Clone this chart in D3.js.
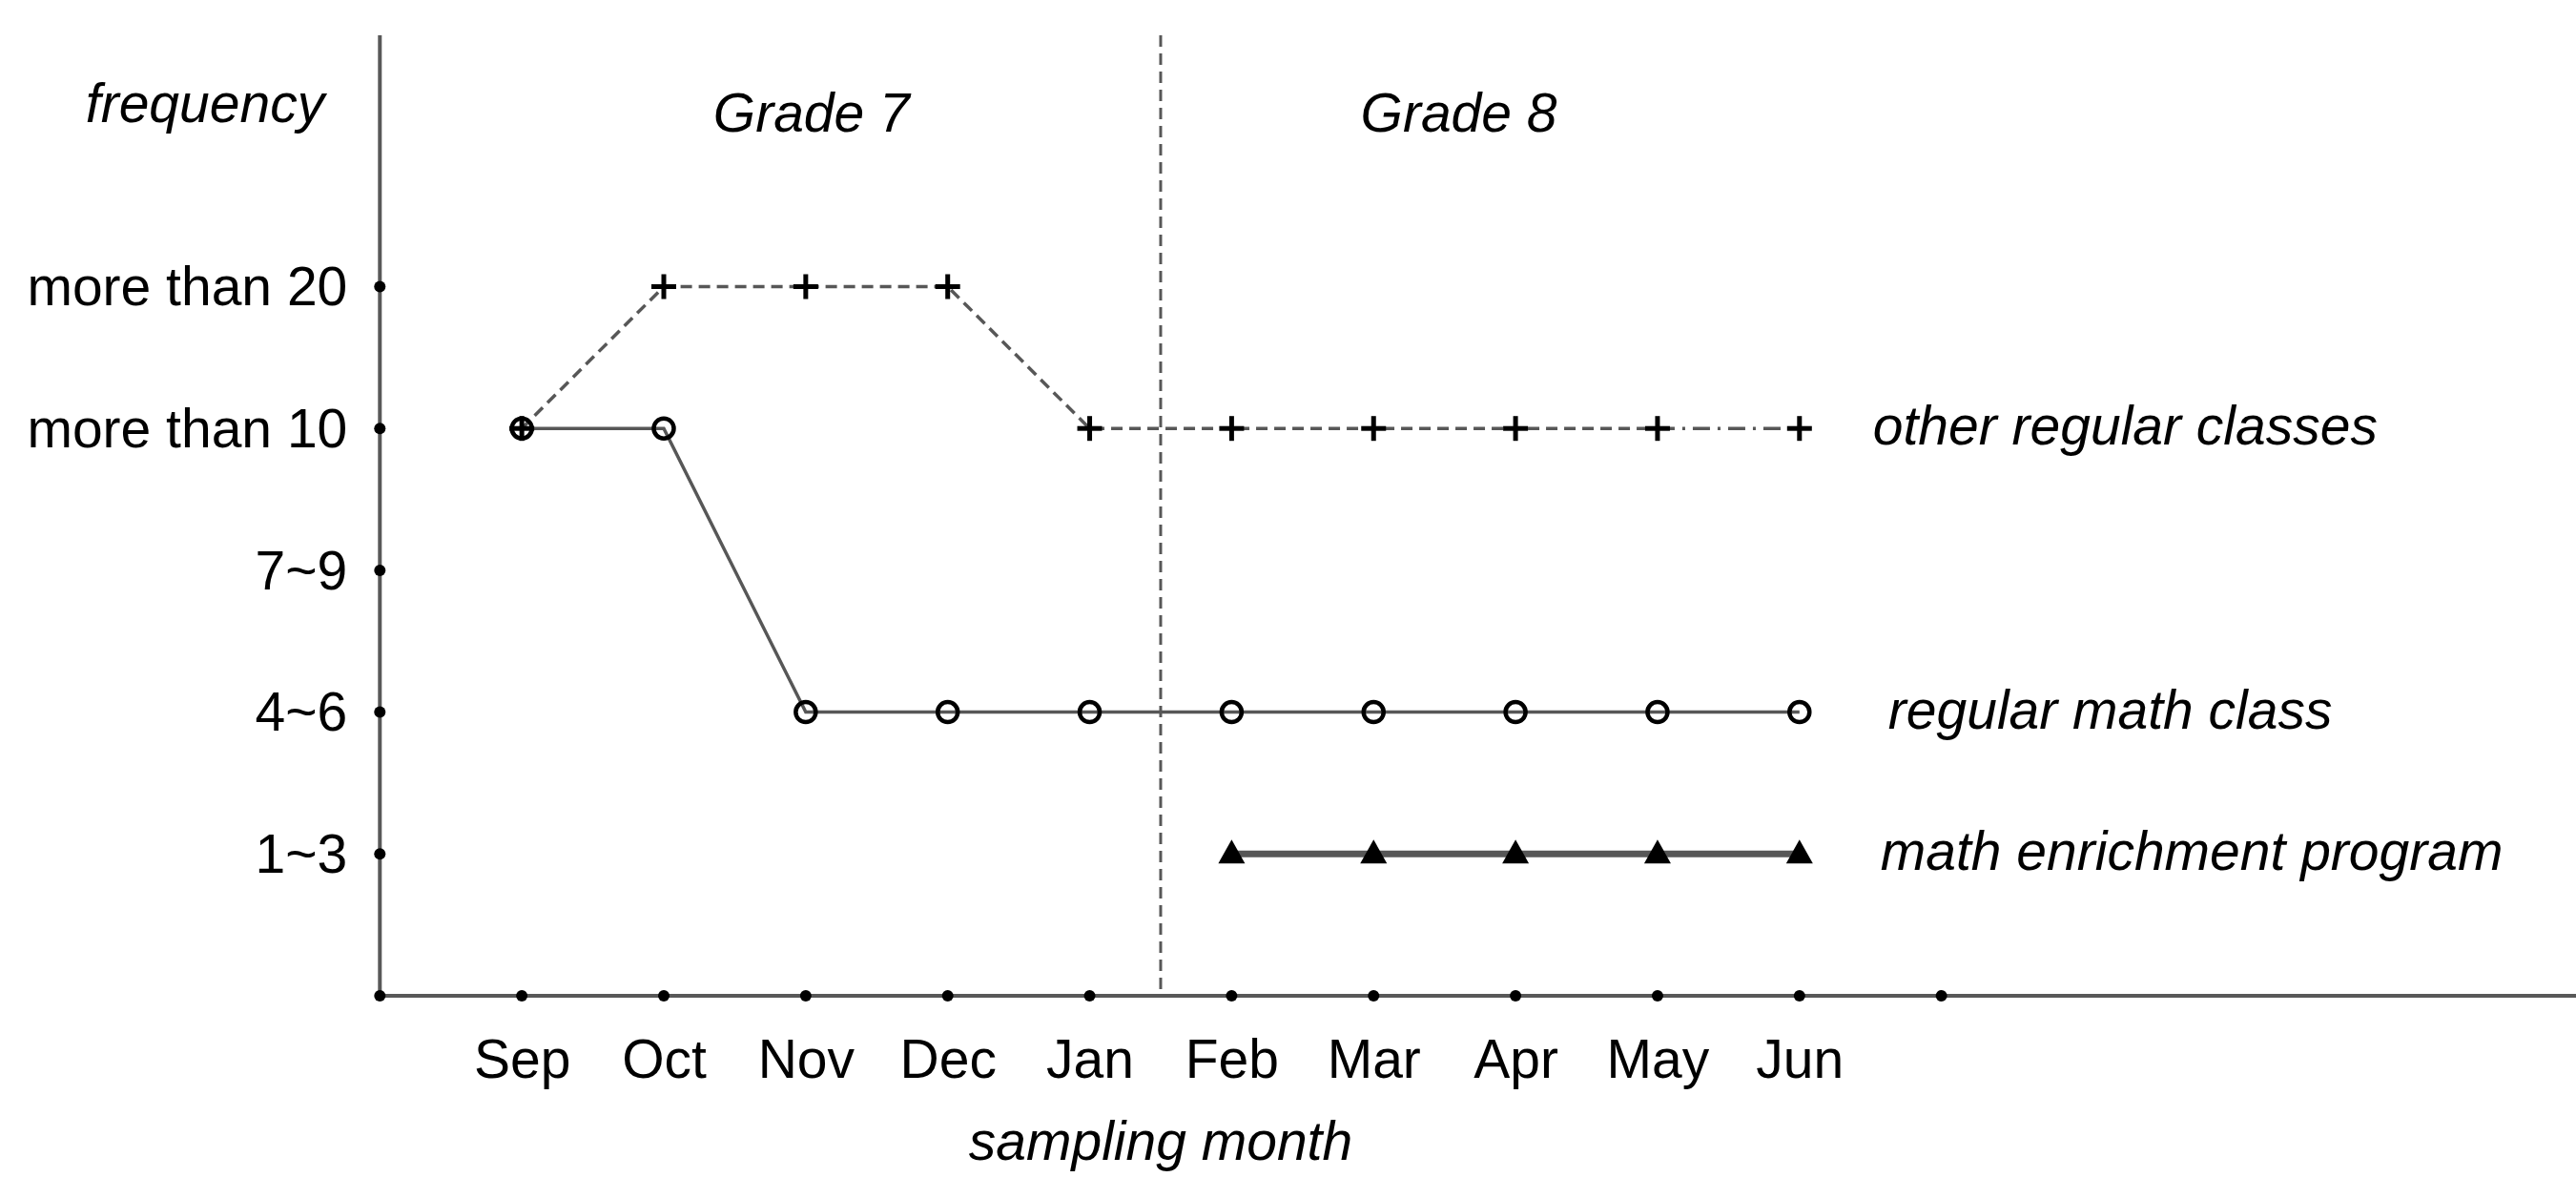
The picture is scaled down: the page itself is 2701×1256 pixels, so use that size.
<!DOCTYPE html>
<html>
<head>
<meta charset="utf-8">
<script src="https://cdn.jsdelivr.net/npm/d3@7"></script>
<style>
  html, body { margin: 0; padding: 0; background: #fff; }
  svg { display: block; }
  text { font-family: "Liberation Sans", Arial, sans-serif; fill: #000; }
</style>
</head>
<body>
<svg id="chart" width="2701" height="1256"></svg>
<script>
// ---- data ----
const months = ["Sep", "Oct", "Nov", "Dec", "Jan", "Feb", "Mar", "Apr", "May", "Jun"];
const freqLabels = ["1~3", "4~6", "7~9", "more than 10", "more than 20"]; // levels 1..5
const otherRegular = [4, 5, 5, 5, 4, 4, 4, 4, 4, 4];
const regularMath = [4, 4, 2, 2, 2, 2, 2, 2, 2, 2];
const enrichment = [null, null, null, null, null, 1, 1, 1, 1, 1];
const seriesNames = ["other regular classes", "regular math class", "math enrichment program"];
const gradeLabels = ["Grade 7", "Grade 8"];
const axisTitles = ["frequency", "sampling month"];

// ---- layout ----
const W = 2701, H = 1256;
const FS = 57;
const svg = d3.select("#chart");
svg.append("rect").attr("width", W).attr("height", H).attr("fill", "#fff");

// index 0 = origin, 1..10 = months, 11 = trailing tick
const x = d3.scaleLinear().domain([0, 11]).range([398.3, 398.3 + 11 * 148.85]);
const y = d3.scaleLinear().domain([0, 5]).range([1044, 300.5]);
const axisColor = "#585858";
const lineColor = "#575757";
const yTop = 37;

// axis lines
svg.append("line").attr("x1", x(0)).attr("x2", x(0)).attr("y1", yTop).attr("y2", y(0))
  .attr("stroke", axisColor).attr("stroke-width", 4);
svg.append("line").attr("x1", x(0)).attr("x2", W).attr("y1", y(0)).attr("y2", y(0))
  .attr("stroke", axisColor).attr("stroke-width", 4);

// grade divider
svg.append("line").attr("x1", x(5.5)).attr("x2", x(5.5)).attr("y1", yTop).attr("y2", y(0))
  .attr("stroke", lineColor).attr("stroke-width", 3).attr("stroke-dasharray", "12,7");

// y axis labels via d3 axis
const yAxis = d3.axisLeft(y)
  .tickValues(d3.range(1, freqLabels.length + 1))
  .tickFormat(d => freqLabels[d - 1])
  .tickSize(0).tickPadding(34);
const gy = svg.append("g").attr("transform", `translate(${x(0)},0)`).call(yAxis);
gy.select(".domain").remove();
gy.selectAll("text").attr("font-size", FS).attr("font-family", "Liberation Sans, Arial, sans-serif")
  .attr("fill", "#000").attr("dy", "0.34em");

// x axis labels via d3 axis
const xAxis = d3.axisBottom(x)
  .tickValues(d3.range(1, months.length + 1))
  .tickFormat(d => months[d - 1])
  .tickSize(0).tickPadding(46);
const gx = svg.append("g").attr("transform", `translate(0,${y(0)})`).call(xAxis);
gx.select(".domain").remove();
gx.selectAll("text").attr("font-size", FS).attr("font-family", "Liberation Sans, Arial, sans-serif")
  .attr("fill", "#000");

// tick dots
svg.append("g").selectAll("circle").data(d3.range(0, freqLabels.length + 1)).join("circle")
  .attr("cx", x(0)).attr("cy", d => y(d)).attr("r", 6).attr("fill", "#000");
svg.append("g").selectAll("circle").data(d3.range(1, months.length + 2)).join("circle")
  .attr("cx", d => x(d)).attr("cy", y(0)).attr("r", 6).attr("fill", "#000");

// titles
svg.append("text").attr("x", 215).attr("y", 128).attr("text-anchor", "middle")
  .attr("font-size", FS).attr("font-style", "italic").text(axisTitles[0]);
svg.append("text").attr("x", x(5.5)).attr("y", 1216).attr("text-anchor", "middle")
  .attr("font-size", FS).attr("font-style", "italic").text(axisTitles[1]);
svg.append("text").attr("x", x(3.04)).attr("y", 138).attr("text-anchor", "middle")
  .attr("font-size", FS).attr("font-style", "italic").text(gradeLabels[0]);
svg.append("text").attr("x", x(7.6)).attr("y", 138).attr("text-anchor", "middle")
  .attr("font-size", FS).attr("font-style", "italic").text(gradeLabels[1]);

// series points
const pts = arr => arr.map((v, i) => ({ i: i + 1, v })).filter(d => d.v !== null);
const line = d3.line().x(d => x(d.i)).y(d => y(d.v));

const otherPts = pts(otherRegular);
const mathPts = pts(regularMath);
const enrPts = pts(enrichment);

// enrichment: thick solid line
svg.append("path").attr("d", line(enrPts)).attr("fill", "none")
  .attr("stroke", lineColor).attr("stroke-width", 7);
// regular math: solid
svg.append("path").attr("d", line(mathPts)).attr("fill", "none")
  .attr("stroke", lineColor).attr("stroke-width", 3.5);
// other regular: dashed, last segment dash-dot
svg.append("path").attr("d", line(otherPts.slice(0, otherPts.length - 1))).attr("fill", "none")
  .attr("stroke", lineColor).attr("stroke-width", 3.5).attr("stroke-dasharray", "12,7");
svg.append("path").attr("d", line(otherPts.slice(otherPts.length - 2))).attr("fill", "none")
  .attr("stroke", lineColor).attr("stroke-width", 3.5).attr("stroke-dasharray", "18,8,3,8");

// markers: circles
svg.append("g").selectAll("circle").data(mathPts).join("circle")
  .attr("cx", d => x(d.i)).attr("cy", d => y(d.v)).attr("r", 10.5)
  .attr("fill", "none").attr("stroke", "#000").attr("stroke-width", 4.5);
// markers: plus
const plusG = svg.append("g").selectAll("g").data(otherPts).join("g")
  .attr("transform", d => `translate(${x(d.i)},${y(d.v)})`);
plusG.append("line").attr("x1", -13).attr("x2", 13).attr("stroke", "#000").attr("stroke-width", 5);
plusG.append("line").attr("y1", -13).attr("y2", 13).attr("stroke", "#000").attr("stroke-width", 5);
// markers: triangles
svg.append("g").selectAll("path").data(enrPts).join("path")
  .attr("transform", d => `translate(${x(d.i)},${y(d.v)})`)
  .attr("d", "M0,-15 L14,10 L-14,10 Z").attr("fill", "#000");

// series labels
const labelDx = [77, 93, 85];
const lastVals = [otherRegular, regularMath, enrichment].map(a => a[a.length - 1]);
seriesNames.forEach((name, k) => {
  svg.append("text").attr("x", x(months.length) + labelDx[k]).attr("y", y(lastVals[k]) + 17)
    .attr("font-size", FS).attr("font-style", "italic").text(name);
});
</script>
</body>
</html>
